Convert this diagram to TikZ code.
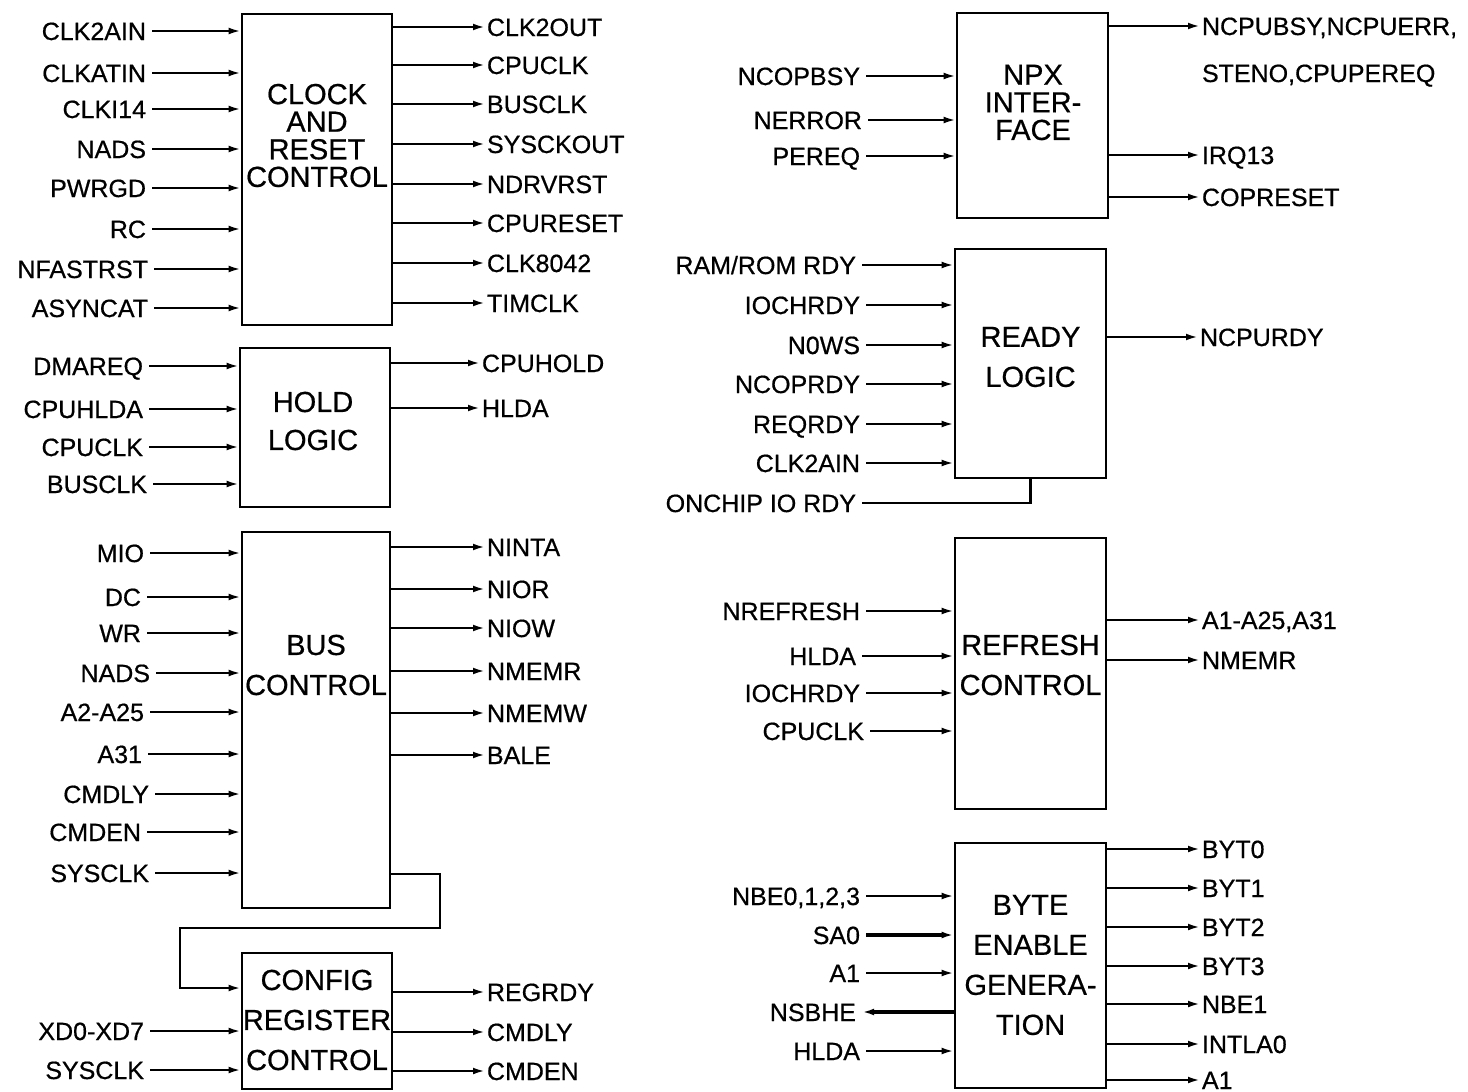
\documentclass[tikz,border=0pt]{standalone}
\usepackage{fontspec}
\setmainfont{Liberation Sans}[BoldFont=Liberation Sans, BoldFeatures={FakeBold=0.6}]
\usepackage{tikz}
\usetikzlibrary{arrows.meta, positioning, calc}
\tikzset{
  blk/.style={rectangle, draw, line width=1.3pt, inner sep=0pt},
  ttl/.style={align=center, inner sep=0pt, font=\fontsize{14.5}{20}\selectfont\bfseries},
  ttltight/.style={ttl, font=\fontsize{14.5}{13.8}\selectfont\bfseries},
  sig/.style={font=\fontsize{12.5}{14}\selectfont\bfseries, inner sep=0pt, text height=9pt, text depth=0pt},
  sigin/.style={sig, anchor=east, outer sep=3pt},
  sigout/.style={sig, anchor=west, outer sep=1pt},
  wire/.style={line width=1.1pt},
  arr/.style={wire, -{Latex[length=6pt, width=3.4pt]}},
  busarr/.style={arr, line width=2pt},
}

\begin{document}
\begin{tikzpicture}[x=0.5pt, y=-0.5pt]
  \useasboundingbox (0,0) rectangle (1468,1092);

  % left column blocks
  \node[blk, minimum width=75pt, minimum height=155.5pt] (clk) at (317,169.5) {};
  \node[ttltight] (clkt) at (317,135.5) {CLOCK\\AND\\RESET\\CONTROL};
  \node[blk, minimum width=75pt, minimum height=79.5pt] (hold) at (315,427.5) {};
  \node[ttl, font=\fontsize{14.5}{19}\selectfont\bfseries] (holdt) at (313,421) {HOLD\\LOGIC};
  \node[blk, minimum width=74pt, minimum height=188pt] (bus) at (316,720) {};
  \node[ttl] (bust) at (316,665) {BUS\\CONTROL};
  \node[blk, minimum width=75pt, minimum height=68pt] (cfg) at (317,1021) {};
  \node[ttl] (cfgt) at (317,1020) {CONFIG\\REGISTER\\CONTROL};

  % right column blocks
  \node[blk, minimum width=75.5pt, minimum height=102.5pt] (npx) at (1032.5,115.5) {};
  \node[ttltight] (npxt) at (1033,102.5) {NPX\\INTER-\\FACE};
  \node[blk, minimum width=75.5pt, minimum height=114.5pt] (rdy) at (1030.5,363.5) {};
  \node[ttl] (rdyt) at (1030.5,357) {READY\\LOGIC};
  \node[blk, minimum width=75.5pt, minimum height=135.5pt] (rfsh) at (1030.5,673.5) {};
  \node[ttl] (rfsht) at (1030.5,665) {REFRESH\\CONTROL};
  \node[blk, minimum width=75.5pt, minimum height=122.5pt] (byte) at (1030.5,965.5) {};
  \node[ttl] (bytet) at (1030.5,965) {BYTE\\ENABLE\\GENERA-\\TION};

  % clock and reset control
  \node[sigin] (cclk2ain) at (152,31) {CLK2AIN};
  \node[sigin] (cclkatin) at (152,73) {CLKATIN};
  \node[sigin] (cclki14) at (152,109) {CLKI14};
  \node[sigin] (cnads) at (152,149) {NADS};
  \node[sigin] (cpwrgd) at (152,188) {PWRGD};
  \node[sigin] (crc) at (152,229) {RC};
  \node[sigin] (cfastrst) at (154,269) {NFASTRST};
  \node[sigin] (casyncat) at (154,308) {ASYNCAT};
  \draw[arr] (cclk2ain) -- (cclk2ain -| clk.west);
  \draw[arr] (cclkatin) -- (cclkatin -| clk.west);
  \draw[arr] (cclki14) -- (cclki14 -| clk.west);
  \draw[arr] (cnads) -- (cnads -| clk.west);
  \draw[arr] (cpwrgd) -- (cpwrgd -| clk.west);
  \draw[arr] (crc) -- (crc -| clk.west);
  \draw[arr] (cfastrst) -- (cfastrst -| clk.west);
  \draw[arr] (casyncat) -- (casyncat -| clk.west);
  \node[sigout] (cclk2out) at (485,27) {CLK2OUT};
  \node[sigout] (ccpuclk) at (485,65) {CPUCLK};
  \node[sigout] (cbusclk) at (485,104) {BUSCLK};
  \node[sigout] (csysckout) at (485,144) {SYSCKOUT};
  \node[sigout] (cdrvrst) at (485,184) {NDRVRST};
  \node[sigout] (ccpureset) at (485,223) {CPURESET};
  \node[sigout] (cclk8042) at (485,263) {CLK8042};
  \node[sigout] (ctimclk) at (485,303) {TIMCLK};
  \draw[arr] (cclk2out -| clk.east) -- (cclk2out);
  \draw[arr] (ccpuclk -| clk.east) -- (ccpuclk);
  \draw[arr] (cbusclk -| clk.east) -- (cbusclk);
  \draw[arr] (csysckout -| clk.east) -- (csysckout);
  \draw[arr] (cdrvrst -| clk.east) -- (cdrvrst);
  \draw[arr] (ccpureset -| clk.east) -- (ccpureset);
  \draw[arr] (cclk8042 -| clk.east) -- (cclk8042);
  \draw[arr] (ctimclk -| clk.east) -- (ctimclk);

  % hold logic
  \node[sigin] (hdmareq) at (149,366) {DMAREQ};
  \node[sigin] (hcpuhlda) at (149,409) {CPUHLDA};
  \node[sigin] (hcpuclk) at (149,447) {CPUCLK};
  \node[sigin] (hbusclk) at (153,484) {BUSCLK};
  \draw[arr] (hdmareq) -- (hdmareq -| hold.west);
  \draw[arr] (hcpuhlda) -- (hcpuhlda -| hold.west);
  \draw[arr] (hcpuclk) -- (hcpuclk -| hold.west);
  \draw[arr] (hbusclk) -- (hbusclk -| hold.west);
  \node[sigout] (hcpuhold) at (480,363) {CPUHOLD};
  \node[sigout] (hhlda) at (480,408) {HLDA};
  \draw[arr] (hcpuhold -| hold.east) -- (hcpuhold);
  \draw[arr] (hhlda -| hold.east) -- (hhlda);

  % bus control
  \node[sigin] (bmio) at (150,553) {MIO};
  \node[sigin] (bdc) at (147,597) {DC};
  \node[sigin] (bwr) at (147,633) {WR};
  \node[sigin] (bnads) at (156,673) {NADS};
  \node[sigin] (baddr) at (150,712) {A2-A25};
  \node[sigin] (ba31) at (148,754) {A31};
  \node[sigin] (bcmdly) at (155,794) {CMDLY};
  \node[sigin] (bcmden) at (147,832) {CMDEN};
  \node[sigin] (bsysclk) at (155,873) {SYSCLK};
  \draw[arr] (bmio) -- (bmio -| bus.west);
  \draw[arr] (bdc) -- (bdc -| bus.west);
  \draw[arr] (bwr) -- (bwr -| bus.west);
  \draw[arr] (bnads) -- (bnads -| bus.west);
  \draw[arr] (baddr) -- (baddr -| bus.west);
  \draw[arr] (ba31) -- (ba31 -| bus.west);
  \draw[arr] (bcmdly) -- (bcmdly -| bus.west);
  \draw[arr] (bcmden) -- (bcmden -| bus.west);
  \draw[arr] (bsysclk) -- (bsysclk -| bus.west);
  \node[sigout] (bninta) at (485,547) {NINTA};
  \node[sigout] (bnior) at (485,589) {NIOR};
  \node[sigout] (bniow) at (485,628) {NIOW};
  \node[sigout] (bnmemr) at (485,671) {NMEMR};
  \node[sigout] (bnmemw) at (485,713) {NMEMW};
  \node[sigout] (bbale) at (485,755) {BALE};
  \draw[arr] (bninta -| bus.east) -- (bninta);
  \draw[arr] (bnior -| bus.east) -- (bnior);
  \draw[arr] (bniow -| bus.east) -- (bniow);
  \draw[arr] (bnmemr -| bus.east) -- (bnmemr);
  \draw[arr] (bnmemw -| bus.east) -- (bnmemw);
  \draw[arr] (bbale -| bus.east) -- (bbale);

  % bus control -> config register
  \coordinate (fbo) at (0,874);
  \coordinate (fbr) at (440,928);
  \coordinate (fbl) at (180,928);
  \coordinate (fbi) at (0,988);
  \draw[arr] (bus.east |- fbo) -| (fbr) -- (fbl) |- (cfg.west |- fbi);

  % config register control
  \node[sigin] (gxd) at (150,1031) {XD0-XD7};
  \node[sigin] (gsysclk) at (150,1070) {SYSCLK};
  \draw[arr] (gxd) -- (gxd -| cfg.west);
  \draw[arr] (gsysclk) -- (gsysclk -| cfg.west);
  \node[sigout] (gregrdy) at (485,992) {REGRDY};
  \node[sigout] (gcmdly) at (485,1032) {CMDLY};
  \node[sigout] (gcmden) at (485,1071) {CMDEN};
  \draw[arr] (gregrdy -| cfg.east) -- (gregrdy);
  \draw[arr] (gcmdly -| cfg.east) -- (gcmdly);
  \draw[arr] (gcmden -| cfg.east) -- (gcmden);

  % npx interface
  \node[sigin] (xcopbsy) at (866,76) {NCOPBSY};
  \node[sigin] (xerror) at (868,120) {NERROR};
  \node[sigin] (xpereq) at (866,156) {PEREQ};
  \draw[arr] (xcopbsy) -- (xcopbsy -| npx.west);
  \draw[arr] (xerror) -- (xerror -| npx.west);
  \draw[arr] (xpereq) -- (xpereq -| npx.west);
  \node[sigout] (xbusy) at (1200,26) {NCPUBSY,NCPUERR,};
  \node[sigout] (xsteno) at (1200,73) {STENO,CPUPEREQ};
  \node[sigout] (xirq) at (1200,155) {IRQ13};
  \node[sigout] (xcopreset) at (1200,197) {COPRESET};
  \draw[arr] (xbusy -| npx.east) -- (xbusy);
  \draw[arr] (xirq -| npx.east) -- (xirq);
  \draw[arr] (xcopreset -| npx.east) -- (xcopreset);

  % ready logic
  \node[sigin] (rramrom) at (862,265) {RAM/ROM RDY};
  \node[sigin] (riochrdy) at (866,305) {IOCHRDY};
  \node[sigin] (rnows) at (866,345) {N0WS};
  \node[sigin] (rcoprdy) at (866,384) {NCOPRDY};
  \node[sigin] (rreqrdy) at (866,424) {REQRDY};
  \node[sigin] (rclk2ain) at (866,463) {CLK2AIN};
  \node[sigin] (ronchip) at (862,503) {ONCHIP IO RDY};
  \draw[arr] (rramrom) -- (rramrom -| rdy.west);
  \draw[arr] (riochrdy) -- (riochrdy -| rdy.west);
  \draw[arr] (rnows) -- (rnows -| rdy.west);
  \draw[arr] (rcoprdy) -- (rcoprdy -| rdy.west);
  \draw[arr] (rreqrdy) -- (rreqrdy -| rdy.west);
  \draw[arr] (rclk2ain) -- (rclk2ain -| rdy.west);
  \draw[wire] (ronchip) -| (rdy.south);
  \node[sigout] (rcpurdy) at (1198,337) {NCPURDY};
  \draw[arr] (rcpurdy -| rdy.east) -- (rcpurdy);

  % refresh control
  \node[sigin] (frefresh) at (866,611) {NREFRESH};
  \node[sigin] (fhlda) at (862,656) {HLDA};
  \node[sigin] (fiochrdy) at (866,693) {IOCHRDY};
  \node[sigin] (fcpuclk) at (870,731) {CPUCLK};
  \draw[arr] (frefresh) -- (frefresh -| rfsh.west);
  \draw[arr] (fhlda) -- (fhlda -| rfsh.west);
  \draw[arr] (fiochrdy) -- (fiochrdy -| rfsh.west);
  \draw[arr] (fcpuclk) -- (fcpuclk -| rfsh.west);
  \node[sigout] (faddr) at (1200,620) {A1-A25,A31};
  \node[sigout] (fnmemr) at (1200,660) {NMEMR};
  \draw[arr] (faddr -| rfsh.east) -- (faddr);
  \draw[arr] (fnmemr -| rfsh.east) -- (fnmemr);

  % byte enable generation
  \node[sigin] (enbe) at (866,896) {NBE0,1,2,3};
  \node[sigin] (esa0) at (866,935) {SA0};
  \node[sigin] (ea1) at (866,973) {A1};
  \node[sigin] (esbhe) at (862,1012) {NSBHE};
  \node[sigin] (ehlda) at (866,1051) {HLDA};
  \draw[arr] (enbe) -- (enbe -| byte.west);
  \draw[busarr] (esa0) -- (esa0 -| byte.west);
  \draw[arr] (ea1) -- (ea1 -| byte.west);
  \draw[busarr] (esbhe -| byte.west) -- (esbhe);
  \draw[arr] (ehlda) -- (ehlda -| byte.west);
  \node[sigout] (ebyt0) at (1200,849) {BYT0};
  \node[sigout] (ebyt1) at (1200,888) {BYT1};
  \node[sigout] (ebyt2) at (1200,927) {BYT2};
  \node[sigout] (ebyt3) at (1200,966) {BYT3};
  \node[sigout] (enbe1) at (1200,1004) {NBE1};
  \node[sigout] (eintla) at (1200,1044) {INTLA0};
  \node[sigout] (ea1out) at (1200,1080) {A1};
  \draw[arr] (ebyt0 -| byte.east) -- (ebyt0);
  \draw[arr] (ebyt1 -| byte.east) -- (ebyt1);
  \draw[arr] (ebyt2 -| byte.east) -- (ebyt2);
  \draw[arr] (ebyt3 -| byte.east) -- (ebyt3);
  \draw[arr] (enbe1 -| byte.east) -- (enbe1);
  \draw[arr] (eintla -| byte.east) -- (eintla);
  \draw[arr] (ea1out -| byte.east) -- (ea1out);
\end{tikzpicture}
\end{document}
